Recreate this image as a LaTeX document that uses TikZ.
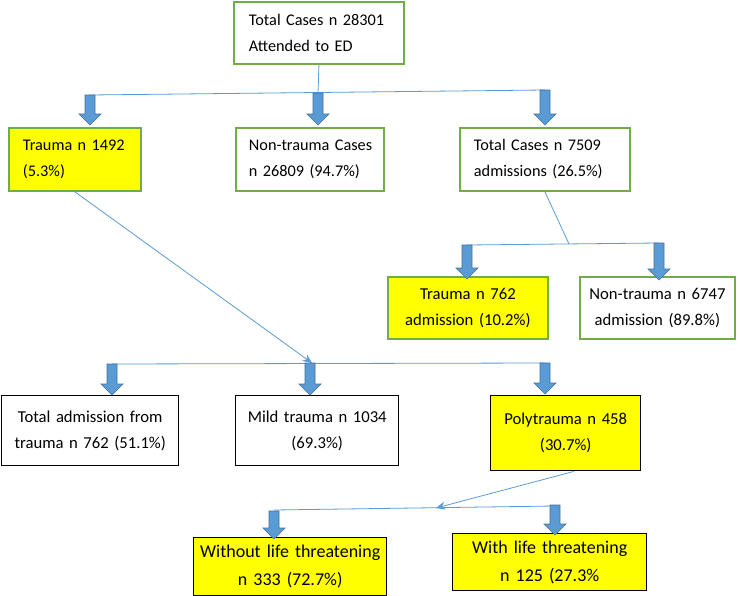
\documentclass[tikz,border=0pt]{standalone}
\usepackage{fontspec}
\setmainfont{Carlito}
\usetikzlibrary{arrows.meta}
\definecolor{bgreen}{HTML}{70AD47}
\definecolor{ablue}{HTML}{5B9BD5}
\definecolor{adark}{HTML}{41719C}
\definecolor{byellow}{HTML}{FFFF00}
\tikzset{
 box/.style={draw, line width=1.4pt, anchor=north west, inner ysep=0pt, font=\fontsize{12.2}{19.5}\selectfont},
 gbox/.style={box, draw=bgreen},
 ctext/.style={align=center, inner xsep=2pt, font=\fontsize{12.5}{19.5}\selectfont},
 kbox/.style={box, ctext, draw=black, line width=1.1pt},
 bigtext/.style={font=\fontsize{13.5}{21}\selectfont},
 yfill/.style={fill=byellow},
 thinln/.style={draw=ablue, line width=0.6pt},
 tipln/.style={thinln, -{Stealth[length=7pt,width=6pt]}},
 barrow/.style={fill=ablue, draw=adark, line width=0.5pt},
}
\newcommand\blockarr[3]{%
 \draw[barrow] (#1-5,#2) -- (#1+5,#2) -- (#1+5,#3-11) -- (#1+11,#3-11) -- (#1,#3) -- (#1-11,#3-11) -- (#1-5,#3-11) -- cycle;}
\begin{document}
\begin{tikzpicture}[x=0.75pt,y=-0.75pt]
\useasboundingbox[fill=white] (0,0) rectangle (740,596);
% level 1
\node[gbox, align=left, inner xsep=11.25pt, text width=105pt, minimum height=46.5pt] (top) at (233,1) {\mbox{Total Cases n 28301}\\Attended to ED};
% level 2
\node[gbox, yfill, align=left, inner xsep=10.5pt, text width=78pt, minimum height=47.25pt] (trauma) at (8,127) {\mbox{Trauma n 1492}\\(5.3\%)};
\node[gbox, align=left, inner xsep=9.75pt, text width=91.5pt, minimum height=47.25pt] (nontrauma) at (235,127) {\mbox{Non-trauma Cases}\\\mbox{n 26809 (94.7\%)}};
\node[gbox, align=left, inner xsep=10.5pt, text width=106.5pt, minimum height=47.25pt] (adm) at (459,127) {\mbox{Total Cases n 7509}\\\mbox{admissions (26.5\%)}};
% level 3
\node[gbox, yfill, ctext, text width=116pt, minimum height=46.5pt] (tadm) at (387,276) {Trauma n 762\\admission (10.2\%)};
\node[gbox, ctext, text width=112.25pt, minimum height=46.5pt] (ntadm) at (579,276) {Non-trauma n 6747\\admission (89.8\%)};
% level 4
\node[kbox, text width=128.75pt, minimum height=52.5pt] (totadm) at (1,395) {Total admission from\\trauma n 762 (51.1\%)};
\node[kbox, text width=118.25pt, minimum height=52.5pt] (mild) at (235,395) {Mild trauma n 1034\\(69.3\%)};
\node[kbox, yfill, text width=108.5pt, minimum height=56.25pt] (poly) at (490,395) {Polytrauma n 458\\(30.7\%)};
% level 5
\node[kbox, yfill, bigtext, text width=140.75pt, minimum height=43.5pt] (without) at (193,537) {Without life threatening\\n 333 (72.7\%)};
\node[kbox, yfill, bigtext, text width=141.5pt, minimum height=42.75pt] (with) at (452,533) {With life threatening\\n 125 (27.3\%};
% connectors level 1 -> 2
\coordinate (j1) at (318,93);
\coordinate (j1l) at (90,95);
\coordinate (j1r) at (545,90);
\draw[thinln] (top.south) -- (j1);
\draw[thinln] (j1l) -- (j1r);
\blockarr{90}{95}{125}
\blockarr{318}{93}{125}
\blockarr{545}{90}{125}
% connectors adm -> level 3
\coordinate (j2) at (569,244);
\coordinate (j2l) at (467,245);
\coordinate (j2r) at (659,243);
\draw[thinln] (adm.south) -- (j2);
\draw[thinln] (j2l) -- (j2r);
\blockarr{467}{245}{279}
\blockarr{659}{243}{280}
% trauma -> level 4
\coordinate (j3) at (312,363);
\coordinate (j3l) at (112,364);
\coordinate (j3r) at (545,363);
\draw[tipln] (trauma.south) -- (j3);
\draw[thinln] (j3l) -- (j3r);
\blockarr{112}{364}{395}
\blockarr{310}{363}{395}
\blockarr{545}{363}{394}
% poly -> level 5
\coordinate (j4) at (436,508);
\coordinate (j4l) at (274,510);
\coordinate (j4r) at (555,506);
\draw[tipln] (poly.south) ++(8,0) -- (j4);
\draw[thinln] (j4l) -- (j4r);
\blockarr{274}{511}{539}
\blockarr{555}{505}{535}
\end{tikzpicture}
\end{document}
